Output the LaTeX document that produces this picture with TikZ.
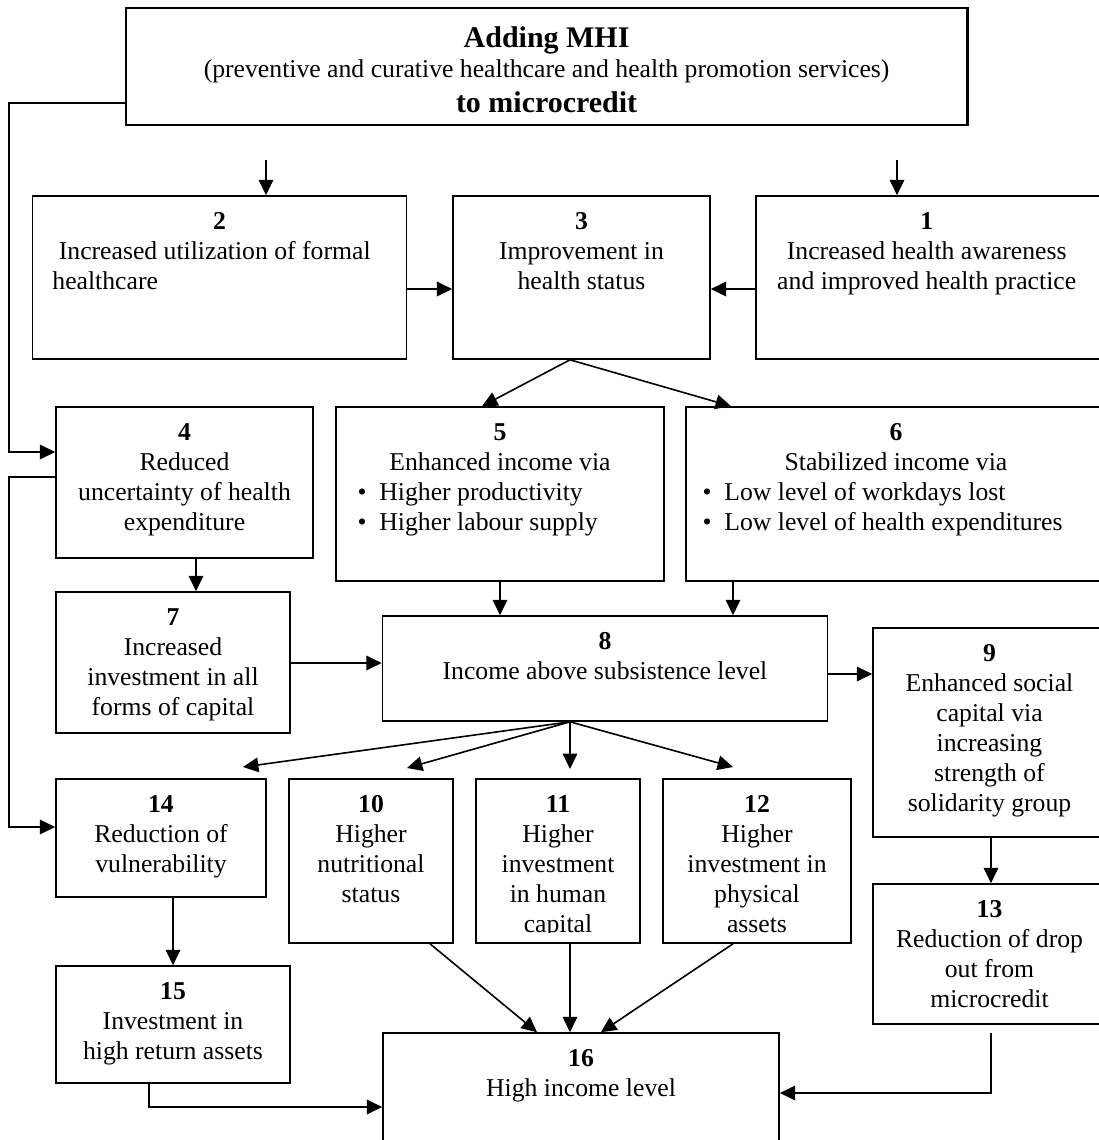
\documentclass[tikz,border=0pt]{standalone}
\usepackage{fontspec}
\setmainfont{Liberation Serif}
\usetikzlibrary{arrows.meta, positioning, fit, calc}
\newcommand{\listdot}{\textbullet\hspace{6pt}}

\begin{document}
\begin{tikzpicture}[
  x=0.467pt, y=-0.467pt,
  pbox/.style={draw, inner sep=0pt, line width=0.75pt},
  topbox/.style={pbox, line width=0.95pt},
  txt/.style={inner sep=0pt, align=center, font=\fontsize{12}{14}\selectfont},
  arr/.style={-{Triangle[length=7.2pt, width=6.8pt]}, line width=0.75pt},
  node distance=8pt
]
\useasboundingbox (0,0) rectangle (1099,1140);
\clip (0,0) rectangle (1099,1140);

% boxes
\node[topbox, fit={(125.7,8) (967.5,125)}] (mhi) {};
\node[pbox, fit={(32.5,196) (406.4,359)}] (b2) {};
\node[pbox, fit={(453,196) (710,359)}] (b3) {};
\node[pbox, fit={(756,196) (1106,359)}] (b1) {};
\node[pbox, fit={(56,407) (313,558)}] (b4) {};
\node[pbox, fit={(336,407) (664,581)}] (b5) {};
\node[pbox, fit={(686,407) (1106,581)}] (b6) {};
\node[pbox, fit={(56,592) (290,733)}] (b7) {};
\node[pbox, fit={(382.5,616) (827.5,721)}] (b8) {};
\node[pbox, fit={(873,628) (1106,837)}] (b9) {};
\node[pbox, fit={(56,779) (266,897)}] (b14) {};
\node[pbox, fit={(289,779) (453,943)}] (b10) {};
\node[pbox, fit={(476,779) (640,943)}] (b11) {};
\node[pbox, fit={(663,779) (851,943)}] (b12) {};
\node[pbox, fit={(873,884) (1106,1024)}] (b13) {};
\node[pbox, fit={(56,966) (290,1083)}] (b15) {};
\node[pbox, fit={(383,1033) (779,1150)}] (b16) {};

% texts
\node[txt, below=9.2pt of mhi.north] (tmhi) {{\fontsize{14}{16}\selectfont\bfseries Adding MHI}\\ (preventive and curative healthcare and health promotion services)\\[2pt] {\fontsize{14}{16}\selectfont\bfseries to microcredit}};
\node[txt, below=of b2.north] (t2) {\textbf{2}\\ \makebox[156pt][l]{\ Increased utilization of formal}\\ \makebox[156pt][l]{healthcare}};
\node[txt, below=of b3.north] (t3) {\textbf{3}\\ Improvement in\\ health status};
\node[txt, below=of b1.north, xshift=-2pt] (t1) {\textbf{1}\\ Increased health awareness\\ and improved health practice};
\node[txt, below=of b4.north] (t4) {\textbf{4}\\ Reduced\\ uncertainty of health\\ expenditure};
\node[txt, below=of b5.north] (t5) {\textbf{5}\\ Enhanced income via\\ \makebox[133pt][l]{\listdot Higher productivity}\\ \makebox[133pt][l]{\listdot Higher labour supply}};
\node[txt, below=of b6.north] (t6) {\textbf{6}\\ Stabilized income via\\ \makebox[180.7pt][l]{\listdot Low level of workdays lost}\\ \makebox[180.7pt][l]{\listdot Low level of health expenditures}};
\node[txt, below=of b7.north] (t7) {\textbf{7}\\ Increased\\ investment in all\\ forms of capital};
\node[txt, below=of b8.north] (t8) {\textbf{8}\\ Income above subsistence level};
\node[txt, below=of b9.north] (t9) {\textbf{9}\\ Enhanced social\\ capital via\\ increasing\\ strength of\\ solidarity group};
\node[txt, below=of b14.north] (t14) {\textbf{14}\\ Reduction of\\ vulnerability};
\node[txt, below=of b10.north] (t10) {\textbf{10}\\ Higher\\ nutritional\\ status};
\begin{scope}
  \clip (476,779) rectangle (851,932);
  \node[txt, below=of b11.north] (t11) {\textbf{11}\\ Higher\\ investment\\ in human\\ capital};
  \node[txt, below=of b12.north] (t12) {\textbf{12}\\ Higher\\ investment in\\ physical\\ assets};
\end{scope}
\node[txt, below=of b13.north] (t13) {\textbf{13}\\ Reduction of drop\\ out from\\ microcredit};
\node[txt, below=of b15.north] (t15) {\textbf{15}\\ Investment in\\ high return assets};
\node[txt, below=of b16.north] (t16) {\textbf{16}\\ High income level};

% free ends and split points
\coordinate (rail) at (9,0);
\coordinate (f2) at (266,160);
\coordinate (f1) at (897,160);
\coordinate (s3) at (b3.south -| 570,0);
\coordinate (s8) at (b8.south -| 570,0);
\coordinate (e14) at (243,767);
\coordinate (e10) at (407,768);
\coordinate (e11) at (570,769);
\coordinate (e12) at (733,767);
\coordinate (f13) at (991,1033);

% connectors
\draw[arr] (f2) -- (f2 |- b2.north);
\draw[arr] (f1) -- (f1 |- b1.north);
\draw[arr] (b2.east |- 0,289) -- (b3.west |- 0,289);
\draw[arr] (b1.west |- 0,289) -- (b3.east |- 0,289);
\draw[arr] (s3) -- (b5.north -| 482,0);
\draw[arr] (s3) -- (b6.north -| 731,0);
\draw[arr] (mhi.west |- 0,103) -| (rail |- 0,452) -- (b4.west |- 0,452);
\draw[arr] (b4.west |- 0,477) -| (rail |- 0,827) -- (b14.west |- 0,827);
\draw[arr] (b4.south -| 196,0) -- (b7.north -| 196,0);
\draw[arr] (b5.south) -- (b8.north -| b5.south);
\draw[arr] (b6.south -| 733,0) -- (b8.north -| 733,0);
\draw[arr] (b7.east |- 0,663) -- (b8.west |- 0,663);
\draw[arr] (b8.east |- 0,674) -- (b9.west |- 0,674);
\foreach \e in {e14,e10,e11,e12}
  \draw[arr] (s8) -- (\e);
\draw[arr] (b9.south -| 991,0) -- (b13.north -| 991,0);
\draw[arr] (b14.south -| 173,0) -- (b15.north -| 173,0);
\draw[arr] (b15.south -| 149,0) |- (b16.west |- 0,1107);
\draw[arr] (b10.south -| 430,0) -- (b16.north -| 537,0);
\draw[arr] (b11.south -| 570,0) -- (b16.north -| 570,0);
\draw[arr] (b12.south -| 733,0) -- (b16.north -| 601,0);
\draw[arr] (f13) |- (b16.east |- 0,1093);
\end{tikzpicture}
\end{document}
